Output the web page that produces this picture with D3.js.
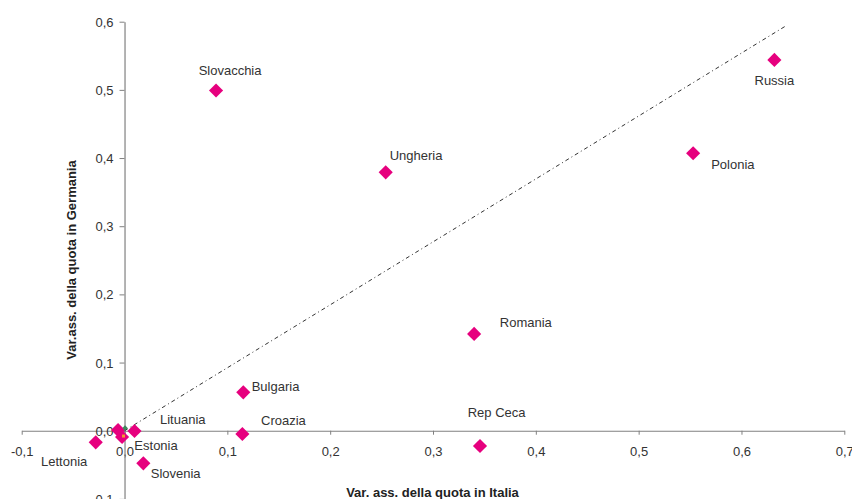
<!DOCTYPE html>
<html>
<head>
<meta charset="utf-8">
<script src="https://cdn.jsdelivr.net/npm/d3@7/dist/d3.min.js"></script>
<style>
  html, body { margin: 0; padding: 0; background: #ffffff; }
  svg { display: block; }
  text { font-family: "Liberation Sans", Arial, sans-serif; }
</style>
</head>
<body>
<svg id="chart" width="852" height="499"></svg>
<script>
// ---- data ----
const countries = ["Russia", "Slovacchia", "Ungheria", "Polonia", "Romania", "Bulgaria",
                   "Croazia", "Rep Ceca", "Slovenia", "Lettonia", "Estonia", "Lituania", ""];
const italyVar   = [0.632, 0.089, 0.254, 0.553, 0.340, 0.1155, 0.1146, 0.3457, 0.0183, -0.028, -0.0024, 0.0097, -0.0063];
const germanyVar = [0.544, 0.499, 0.379, 0.407, 0.142, 0.0563, -0.0048, -0.0224, -0.0478, -0.017, -0.0092, -0.0004, 0.001];
const xTicks = [-0.1, 0.0, 0.1, 0.2, 0.3, 0.4, 0.5, 0.6, 0.7];
const yTicks = [-0.1, 0.0, 0.1, 0.2, 0.3, 0.4, 0.5, 0.6];
const refLineX = [0, 0.643];
const refLineY = [0, 0.5937];
// tiny markers of the other series at the origin
const originMarksX = [0.0005, -0.001];
const originMarksY = [0.004, -0.0078];

// ---- label placement (pixel offsets from the marker: text start, baseline) ----
const labelOffsets = {
  "Russia":     { dx: 0,     dy: 25.5, anchor: "middle" },
  "Slovacchia": { dx: -17.4, dy: -15.5 },
  "Ungheria":   { dx: 4,     dy: -12.8 },
  "Polonia":    { dx: 18,    dy: 15.5 },
  "Romania":    { dx: 25.7,  dy: -7 },
  "Bulgaria":   { dx: 8.4,   dy: -1.3 },
  "Croazia":    { dx: 18.7,  dy: -9.5 },
  "Rep Ceca":   { dx: -12.3, dy: -29 },
  "Slovenia":   { dx: 7.4,   dy: 14.7 },
  "Lettonia":   { dx: -54.7, dy: 23.7 },
  "Estonia":    { dx: 12.3,  dy: 12.5 },
  "Lituania":   { dx: 25.5,  dy: -7 }
};

const W = 852, H = 499;
const svg = d3.select("#chart");

const x = d3.scaleLinear().domain([-0.1, 0.7]).range([21.7, 844.3]);
const y = d3.scaleLinear().domain([-0.1, 0.6]).range([498.9, 21.7]);

const loc = d3.formatLocale({ decimal: ",", thousands: ".", grouping: [3], currency: ["", "€"], minus: "-" });
const fmt = loc.format(".1f");

const axisColor = "#808080";
const textColor = "#333333";

// x axis at y=0
const gx = svg.append("g")
  .attr("transform", `translate(0,${y(0)})`)
  .call(d3.axisBottom(x).tickValues(xTicks).tickFormat(fmt).tickSize(4).tickSizeOuter(0));
// y axis at x=0
const gy = svg.append("g")
  .attr("transform", `translate(${x(0)},0)`)
  .call(d3.axisLeft(y).tickValues(yTicks).tickFormat(fmt).tickSize(5).tickSizeOuter(0));

[gx, gy].forEach(g => {
  g.select(".domain").attr("stroke", axisColor).attr("stroke-width", 1.2);
  g.selectAll(".tick line").attr("stroke", axisColor).attr("stroke-width", 1);
  g.selectAll(".tick text")
    .attr("fill", textColor)
    .attr("font-size", 13)
    .attr("font-family", "'Liberation Sans', Arial, sans-serif");
});
gx.selectAll(".tick text").attr("y", 25).attr("dy", 0);
gy.selectAll(".tick text").attr("x", -11).attr("dy", 0).attr("y", 4.6);
gx.attr("font-family", null); gy.attr("font-family", null);

// reference dash-dot line
const lineData = refLineX.map((v, i) => [v, refLineY[i]]);
svg.append("path")
  .datum(lineData)
  .attr("d", d3.line().x(d => x(d[0])).y(d => y(d[1])))
  .attr("fill", "none")
  .attr("stroke", "#333333")
  .attr("stroke-width", 1)
  .attr("stroke-dasharray", "4,3,1,3");

// points
const points = countries.map((c, i) => ({ name: c, xv: italyVar[i], yv: germanyVar[i] }));
const diamond = d3.symbol().type(d3.symbolSquare).size(100);
svg.append("g").selectAll("path")
  .data(points)
  .join("path")
  .attr("d", diamond)
  .attr("transform", d => `translate(${x(d.xv)},${y(d.yv)}) rotate(45)`)
  .attr("fill", "#e6007e");

// small markers at the origin
svg.append("path")
  .attr("d", d3.symbol().type(d3.symbolSquare).size(14))
  .attr("transform", `translate(${x(originMarksX[0])},${y(originMarksY[0])}) rotate(45)`)
  .attr("fill", "#3c8a5c");
svg.append("path")
  .attr("d", d3.symbol().type(d3.symbolSquare).size(9))
  .attr("transform", `translate(${x(originMarksX[1])},${y(originMarksY[1])})`)
  .attr("fill", "#f09a30");

// labels
svg.append("g").selectAll("text")
  .data(points.filter(d => d.name && labelOffsets[d.name]))
  .join("text")
  .attr("x", d => x(d.xv) + labelOffsets[d.name].dx)
  .attr("y", d => y(d.yv) + labelOffsets[d.name].dy)
  .attr("text-anchor", d => labelOffsets[d.name].anchor || "start")
  .attr("font-size", 13)
  .attr("fill", textColor)
  .text(d => d.name);

// axis titles
svg.append("text")
  .attr("x", 432.5).attr("y", 496.5)
  .attr("text-anchor", "middle")
  .attr("font-size", 13).attr("font-weight", "bold")
  .attr("fill", "#222222")
  .text("Var. ass. della quota in Italia");
svg.append("text")
  .attr("transform", "translate(76,260) rotate(-90)")
  .attr("text-anchor", "middle")
  .attr("font-size", 13).attr("font-weight", "bold")
  .attr("fill", "#222222")
  .text("Var.ass. della quota in Germania");
</script>
</body>
</html>
